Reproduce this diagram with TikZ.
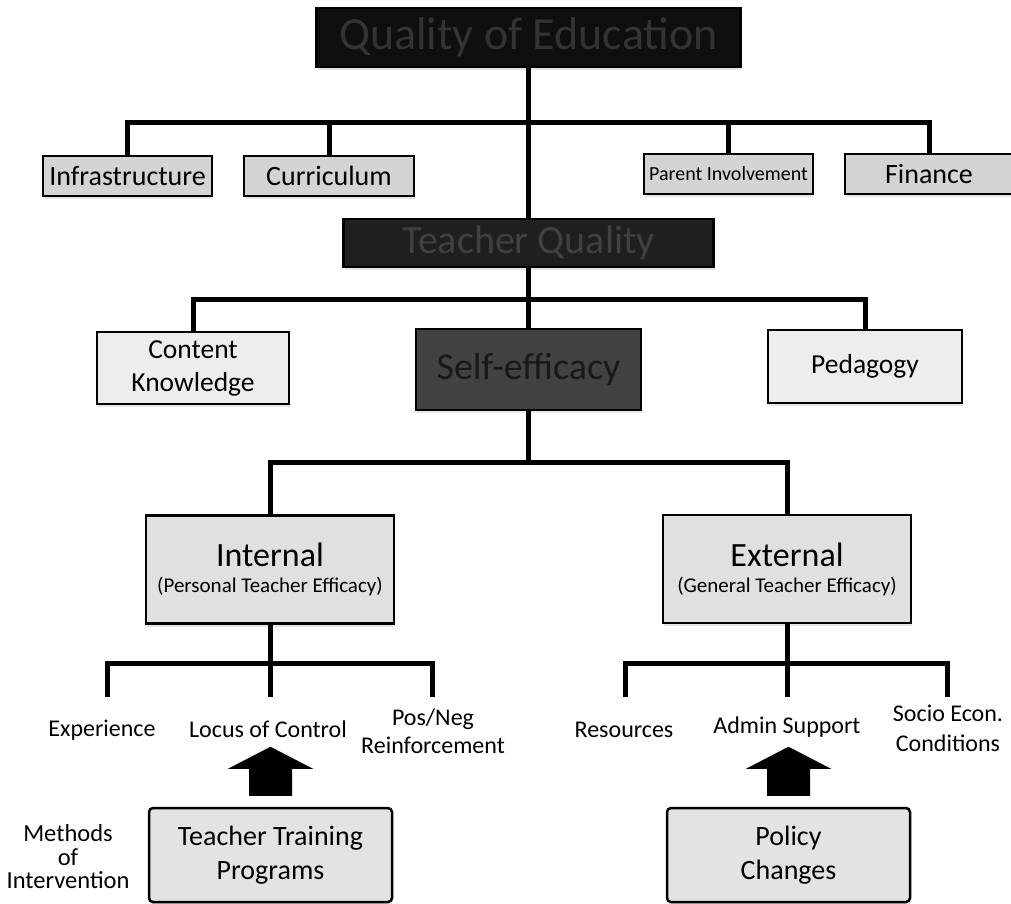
\documentclass[tikz,border=0pt]{standalone}
\usepackage{fontspec}
\setmainfont{Carlito}
\usetikzlibrary{positioning,shadows,calc}
\newcommand{\fsz}[2]{\fontsize{#1}{#2}\selectfont}

\begin{document}
\begin{tikzpicture}[
  x=1pt, y=-1pt,
  box/.style={draw=black, line width=2.5pt, align=center, inner sep=0pt,
    drop shadow={shadow xshift=1pt, shadow yshift=-3pt, opacity=0.2}},
  dark/.style={box, fill=#1},
  factor/.style={box, fill=black!17, minimum height=40pt, font=\fsz{28}{30}},
  sub/.style={box, fill=black!7, font=\fsz{27.5}{33}},
  kind/.style={box, fill=black!12, minimum width=248pt, minimum height=108pt, font=\fsz{21}{26}},
  method/.style={box, fill=black!11, rounded corners=4pt, minimum width=243pt, minimum height=94pt, font=\fsz{28}{34}},
  leaf/.style={align=center, inner sep=0pt, font=\fsz{24}{28}},
  tree/.style={line width=5pt},
  blockarr/.style={fill=black}
]
\useasboundingbox (0,0) rectangle (1011,904);

% levels
\node[dark=black!94, text=black!80, minimum width=424pt, minimum height=59pt, font=\fsz{46}{50}] (qual) at (528.5,37.5) {Quality of Education};
\node[factor, minimum width=169pt] (infra) at (127.5,176) {Infrastructure};
\node[factor, minimum width=170pt] (curr) at (329,176) {Curriculum};
\node[factor, minimum width=169pt, font=\fsz{20}{24}] (parent) at (728.5,174) {Parent Involvement};
\node[factor, minimum width=168pt] (fin) at (929,174) {Finance};
\node[dark=black!88, text=black!75, minimum width=370pt, minimum height=48pt, font=\fsz{40}{44}] (tq) at (528.5,243) {Teacher Quality};
\node[sub, minimum width=192pt, minimum height=72pt] (content) at (193,368) {Content\\Knowledge};
\node[dark=black!74, text=black!90, minimum width=225pt, minimum height=81pt, font=\fsz{38}{42}] (self) at (528.5,369.5) {Self-efficacy};
\node[sub, minimum width=194pt, minimum height=73pt] (ped) at (865,366.5) {Pedagogy};
\node[kind] (internal) at (270,569.5) {{\fsz{34}{26}Internal}\\(Personal Teacher Efficacy)};
\node[kind] (external) at (787,569) {{\fsz{34}{26}External}\\(General Teacher Efficacy)};

% leaves
\node[leaf] (exp) at (102,730) {Experience};
\node[leaf] (locus) at (268,729) {Locus of Control};
\node[leaf] (posneg) at (433,731) {Pos/Neg\\Reinforcement};
\node[leaf] (res) at (624,730) {Resources};
\node[leaf] (admin) at (787,727) {Admin Support};
\node[leaf, font=\fsz{24}{30}] (socio) at (948,728) {Socio Econ.\\Conditions};

% interventions
\node[method] (ttp) at (270.5,855) {Teacher Training\\Programs};
\node[method] (policy) at (788.5,855) {Policy\\Changes};
\node[leaf, font=\fsz{24.5}{23.5}] (methods) at (68,857) {Methods\\of\\Intervention};

% bars
\coordinate (b1) at (528.5,123);
\coordinate (b2) at (528.5,299);
\coordinate (b3) at (528.5,462);
\coordinate (dexp) at (107,697);
\coordinate (dloc) at (270,697);
\coordinate (dpos) at (432,697);
\coordinate (dres) at (625,697);
\coordinate (dadm) at (787,697);
\coordinate (dsoc) at (947,697);

\draw[tree] (qual.south) -- (tq.north);
\draw[tree] (infra.north) |- (b1) -| (fin.north);
\draw[tree] (curr.north) -- (curr.north |- b1);
\draw[tree] (parent.north) -- (parent.north |- b1);
\draw[tree] (tq.south) -- (self.north);
\draw[tree] (content.north) |- (b2) -| (ped.north);
\draw[tree] (self.south) -- (b3);
\draw[tree] (internal.north) |- (b3) -| (external.north);
\draw[tree] (internal.south) -- (dloc);
\draw[tree] (dexp) -- ++(0,-34) -| (dpos);
\draw[tree] (external.south) -- (dadm);
\draw[tree] (dres) -- ++(0,-34) -| (dsoc);

% block arrows
\fill[blockarr] ([yshift=11pt]ttp.north) -- ++(-21.5,0) -- ++(0,-27) -- ++(-21,0) -- ++(42.5,-22) -- ++(42.5,22) -- ++(-21,0) -- ++(0,27) -- cycle;
\fill[blockarr] ([yshift=11pt]policy.north) -- ++(-21.5,0) -- ++(0,-27) -- ++(-21,0) -- ++(42.5,-22) -- ++(42.5,22) -- ++(-21,0) -- ++(0,27) -- cycle;

\end{tikzpicture}
\end{document}
